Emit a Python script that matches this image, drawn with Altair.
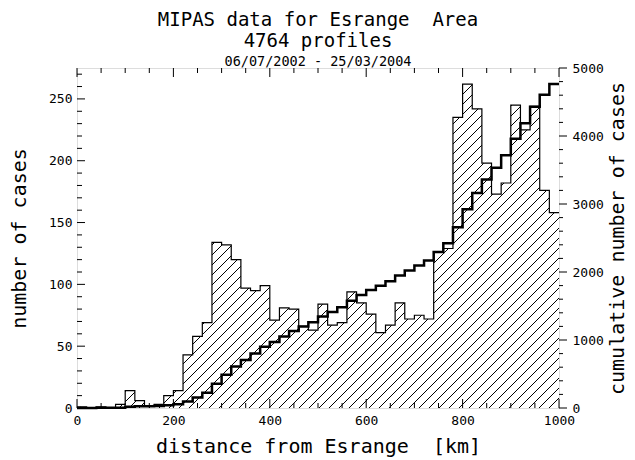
import altair as alt
import pandas as pd

# ---- data ----
BIN_START = list(range(0, 1000, 20))          # 20 km bins
COUNTS = [1, 0, 1, 0, 3, 14, 6, 2, 3, 10,
          14, 43, 58, 69, 134, 132, 120, 97, 95, 99,
          71, 81, 80, 66, 63, 84, 67, 69, 94, 85,
          76, 61, 67, 85, 72, 75, 72, 126, 129, 235,
          262, 242, 198, 173, 182, 245, 225, 244, 176, 158]
X_END = 1000
X_DOMAIN = [0, 1000]
Y_LEFT_DOMAIN = [0, 275]
Y_RIGHT_DOMAIN = [0, 5000]
X_LABELS = [0, 200, 400, 600, 800, 1000]
X_MINOR = [50, 100, 150, 250, 300, 350, 450, 500, 550, 650, 700, 750, 850, 900, 950]
Y_LEFT_LABELS = [0, 50, 100, 150, 200, 250]
Y_LEFT_MINOR = [v for v in range(10, 275, 10) if v % 50]
Y_RIGHT_LABELS = [0, 1000, 2000, 3000, 4000, 5000]
Y_RIGHT_MINOR = [v for v in range(200, 5000, 200) if v % 1000]

TITLE_LINES = ["MIPAS data for Esrange\u00a0 Area", "4764 profiles"]
SUBTITLE = "06/07/2002 - 25/03/2004"
X_TITLE = "distance from Esrange\u00a0 [km]"
Y_LEFT_TITLE = "number of cases"
Y_RIGHT_TITLE = "cumulative number of cases"

# ---- layout / style ----
W, H = 482, 340
PAD = {"left": 69, "top": 60, "right": 68, "bottom": 52}
FONT = "DejaVu Sans Mono"

df = pd.DataFrame({
    "x": BIN_START + [X_END],
    "level": COUNTS + [COUNTS[-1]],
    "n": COUNTS + [0],
})

xs = alt.Scale(domain=X_DOMAIN, nice=False, zero=False)
yl = alt.Scale(domain=Y_LEFT_DOMAIN, nice=False)
yr = alt.Scale(domain=Y_RIGHT_DOMAIN, nice=False)

# diagonal hatch as a striped gradient over the area's bounding box
bw = float(W)
bh = max(COUNTS) / Y_LEFT_DOMAIN[1] * H
k = (bw + bh) / (bw ** 2 + bh ** 2)
period = 10.0 / (bw + bh)
lw = 1.2 / (bw + bh)
stops = [{"offset": 0, "color": "white"}]
t = period * 0.5
while t + lw < 1:
    stops += [
        {"offset": round(t, 6), "color": "white"},
        {"offset": round(t, 6), "color": "black"},
        {"offset": round(t + lw, 6), "color": "black"},
        {"offset": round(t + lw, 6), "color": "white"},
    ]
    t += period
stops.append({"offset": 1, "color": "white"})
hatch = {"gradient": "linear", "x1": 0, "y1": 0, "x2": k * bw, "y2": k * bh, "stops": stops}

lab = dict(labelFont=FONT, labelFontSize=13, labelColor="black", ticks=False,
           domain=False, grid=False, labelOverlap=False, labelFlush=False,
           titleFont=FONT, titleFontSize=20, titleFontWeight="normal",
           titleColor="black", titleBaseline="alphabetic", titleAlign="center")

x_axis = alt.Axis(orient="bottom", values=X_LABELS, format="d", labelPadding=6,
                  title=X_TITLE, titleX=W / 2, titleY=44, **lab)

area = alt.Chart(df).mark_area(interpolate="step-after", fill=hatch, fillOpacity=1).encode(
    x=alt.X("x:Q", scale=xs, axis=x_axis),
    y=alt.Y("level:Q", scale=yl, axis=alt.Axis(orient="left", values=Y_LEFT_LABELS, format="d",
                                               labelPadding=5, title=Y_LEFT_TITLE,
                                               titleAngle=270, titleX=-52, titleY=H / 2, **lab)),
)

outline = alt.Chart(df).mark_line(interpolate="step-after", color="black", strokeWidth=1.2).encode(
    x=alt.X("x:Q", scale=xs, axis=None),
    y=alt.Y("level:Q", scale=yl, axis=None),
)

cum = alt.Chart(df).transform_window(
    cum="sum(n)", sort=[alt.SortField("x")], frame=[None, 0]
).mark_line(interpolate="step-after", color="black", strokeWidth=2.5).encode(
    x=alt.X("x:Q", scale=xs, axis=None),
    y=alt.Y("cum:Q", scale=yr, axis=alt.Axis(orient="right", values=Y_RIGHT_LABELS, format="d",
                                             labelPadding=13, title=Y_RIGHT_TITLE,
                                             titleAngle=270, titleX=64, titleY=H / 2, **lab)),
)


def xticks(vals, length, top):
    d = pd.DataFrame({"x": vals})
    if top:
        yy = dict(y=alt.value(0), y2=alt.value(length))
    else:
        yy = dict(y=alt.value(H), y2=alt.value(H - length))
    return alt.Chart(d).mark_rule(color="black", strokeWidth=1).encode(
        x=alt.X("x:Q", scale=xs, axis=None), **yy)


def yticks(vals, scale, x0, x1):
    d = pd.DataFrame({"v": vals})
    return alt.Chart(d).mark_rule(color="black", strokeWidth=1).encode(
        y=alt.Y("v:Q", scale=scale, axis=None), x=alt.value(x0), x2=alt.value(x1))


layers = [
    area, outline, cum,
    xticks(X_LABELS, 9, False), xticks(X_MINOR, 5, False),
    xticks(X_LABELS, 9, True), xticks(X_MINOR, 5, True),
    yticks(Y_LEFT_LABELS, yl, 0, 8), yticks(Y_LEFT_MINOR, yl, 0, 5),
    yticks(Y_RIGHT_LABELS, yr, W, W + 8), yticks(Y_RIGHT_MINOR, yr, W, W + 4),
]

chart = alt.layer(*layers).resolve_scale(y="independent").resolve_axis(
    x="independent", y="independent"
).properties(
    width=W, height=H,
    autosize=alt.AutoSizeParams(type="none"),
    padding=PAD,
    title=alt.Title(TITLE_LINES, subtitle=SUBTITLE, font=FONT, fontSize=19,
                    fontWeight="normal", color="black", subtitleFont=FONT,
                    subtitleFontSize=13.5, subtitleColor="black", anchor="middle",
                    frame="group", offset=-6, lineHeight=21, subtitlePadding=4),
).configure_view(stroke="black", strokeWidth=1).configure(background="white")

chart.save("out.html", embed_options={"renderer": "svg", "actions": False})
